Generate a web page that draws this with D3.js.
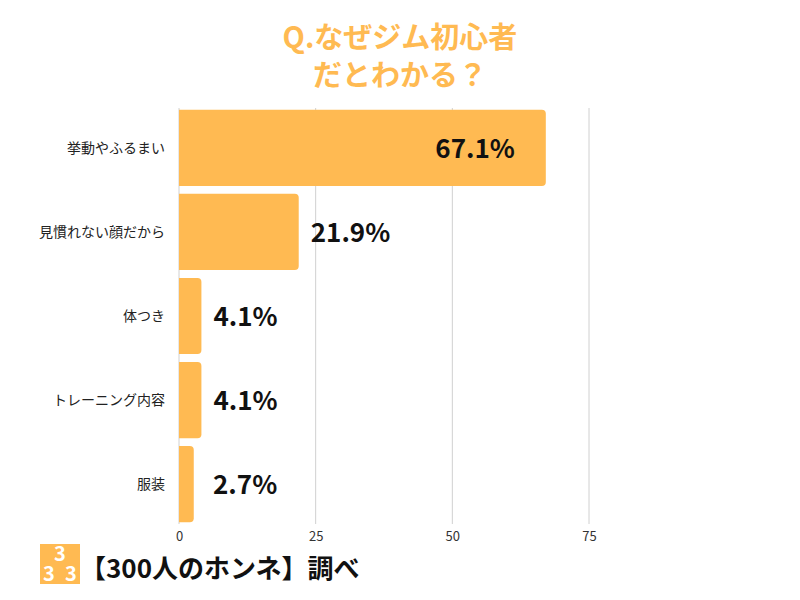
<!DOCTYPE html><html><head><meta charset="utf-8"><script src="https://cdn.jsdelivr.net/npm/d3@7"></script>
<style>body{margin:0;background:#fff}text{font-family:"Noto Sans CJK JP",sans-serif}</style></head><body><svg width="800" height="600"></svg>
<script>
const categories=["挙動やふるまい","見慣れない顔だから","体つき","トレーニング内容","服装"];
const values=[67.1,21.9,4.1,4.1,2.7];
const ticks=[0,25,50,75];
const svg=d3.select("svg");
const orange="#FFBA52";
const x=d3.scaleLinear().domain([0,75]).range([179,589]);
const y=d3.scaleBand().domain(categories).range([106,526]).paddingInner(0.095).paddingOuter(0.045);
svg.append("text").attr("x",400).attr("y",48).attr("text-anchor","middle").attr("font-size",29).attr("font-weight","bold").attr("fill",orange).text("Q.なぜジム初心者");
svg.append("text").attr("x",400).attr("y",86).attr("text-anchor","middle").attr("font-size",29).attr("font-weight","bold").attr("fill",orange).text("だとわかる？");
svg.selectAll(".g").data(ticks).join("line").attr("x1",d=>x(d)).attr("x2",d=>x(d)).attr("y1",108).attr("y2",524).attr("stroke","#d0d0d0").attr("stroke-width",1);
const ax=svg.append("g").attr("transform","translate(0,524)").call(d3.axisBottom(x).tickValues(ticks).tickSize(0).tickPadding(8));
ax.select(".domain").remove();ax.selectAll("text").attr("font-size",13).attr("fill","#333").style("font-family","'Noto Sans CJK JP'");
const r=4;
svg.selectAll(".b").data(values).join("path").attr("fill",orange).attr("d",(d,i)=>{
 const x0=x(0),x1=x(d),y0=y(categories[i]),h=y.bandwidth();
 return `M${x0},${y0}H${x1-r}Q${x1},${y0} ${x1},${y0+r}V${y0+h-r}Q${x1},${y0+h} ${x1-r},${y0+h}H${x0}Z`;});
svg.selectAll(".l").data(categories).join("text").attr("x",165).attr("y",d=>y(d)+y.bandwidth()/2+5).attr("text-anchor","end").attr("font-size",14).attr("fill","#222").text(d=>d);
svg.selectAll(".v").data(values).join("text").attr("font-size",26).attr("font-weight","bold").attr("fill","#111")
 .attr("x",d=>d>50?x(d)-31:Math.max(x(d)+12,213)).attr("text-anchor",d=>d>50?"end":"start")
 .attr("y",(d,i)=>y(categories[i])+y.bandwidth()/2+10).text(d=>d.toFixed(1)+"%");
const lg=svg.append("g").attr("transform","translate(40,544)");
lg.append("rect").attr("width",40).attr("height",40).attr("fill",orange);
[[20,17,"3"],[9,37,"3"],[31,37,"3"]].forEach(p=>lg.append("text").attr("x",p[0]).attr("y",p[1]).attr("text-anchor","middle").attr("font-size",20).attr("font-weight","bold").attr("fill","#fff").text(p[2]));
svg.append("text").attr("x",80).attr("y",578).attr("font-size",26).attr("font-weight","bold").attr("fill","#111").text("【300人のホンネ】調べ");
</script></body></html>
